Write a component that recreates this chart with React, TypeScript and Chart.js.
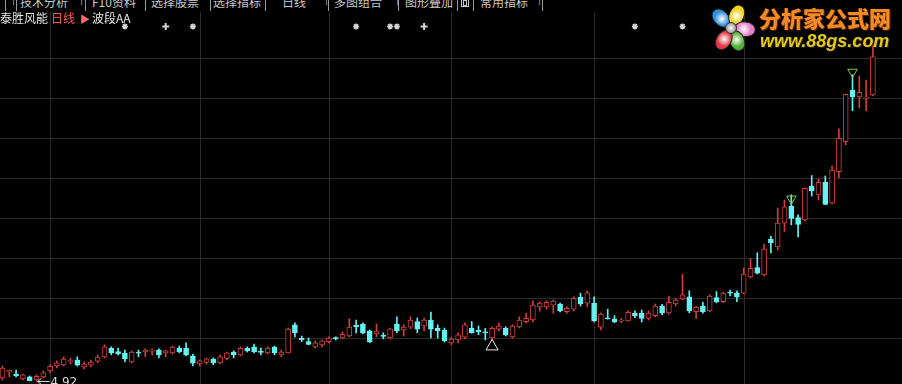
import React, { useEffect, useRef } from "react";
import { Chart, registerables } from "chart.js";

Chart.register(...registerables);

// ---------- text ----------
const stockName = "泰胜风能";
const periodLabel = "日线";
const indicatorLabel = "波段AA";
const toolbarLabels = ["技术分析", "F10资料", "选择股票", "选择指标", "日线", "多图组合", "图形叠加", "常用指标"];
const logoTitle = "分析家公式网";
const logoUrl = "www.88gs.com";

// ---------- daily candles (index 0 = oldest) ----------
const opens = [
  5.00, 5.15, 5.10, 4.98, 5.03, 4.95, 5.03, 5.18, 5.30, 5.33,
  5.41, 5.45, 5.28, 5.32, 5.42, 5.53, 5.74, 5.66, 5.62, 5.40,
  5.64, 5.65, 5.68, 5.70, 5.63, 5.63, 5.74, 5.74, 5.55, 5.35,
  5.39, 5.47, 5.38, 5.49, 5.65, 5.58, 5.74, 5.78, 5.66, 5.63,
  5.77, 5.58, 5.63, 6.33, 5.98, 5.91, 5.78, 5.83, 5.91, 6.00,
  6.00, 6.05, 6.31, 6.34, 6.18, 6.10, 6.06, 6.00, 6.35, 6.20,
  6.27, 6.41, 6.30, 6.45, 6.24, 6.20, 5.88, 5.95, 6.02, 6.24,
  6.18, 6.15, 6.00, 6.22, 6.24, 6.03, 6.28, 6.41, 6.45, 6.78,
  6.78, 6.82, 6.85, 6.66, 6.72, 7.02, 6.87, 6.87, 6.27, 6.50,
  6.47, 6.43, 6.43, 6.62, 6.62, 6.49, 6.56, 6.80, 6.63, 6.85,
  6.98, 7.03, 6.66, 6.80, 6.68, 7.01, 6.91, 7.14, 7.13, 7.12,
  7.53, 7.76, 7.58, 8.47, 8.28, 8.87, 9.30, 9.01, 8.95, 9.80,
  9.58, 9.89, 9.37, 10.16, 10.91, 12.20, 12.03, 12.00, 12.08,
];
const highs = [
  5.30, 5.20, 5.20, 5.10, 5.05, 5.08, 5.18, 5.33, 5.43, 5.53,
  5.50, 5.53, 5.40, 5.45, 5.58, 5.83, 5.78, 5.75, 5.70, 5.68,
  5.70, 5.73, 5.73, 5.73, 5.70, 5.80, 5.80, 5.88, 5.60, 5.45,
  5.50, 5.50, 5.58, 5.65, 5.68, 5.78, 5.78, 5.85, 5.75, 5.78,
  5.80, 5.70, 6.25, 6.38, 6.05, 6.00, 5.93, 5.95, 6.03, 6.03,
  6.15, 6.48, 6.45, 6.38, 6.20, 6.35, 6.13, 6.25, 6.53, 6.33,
  6.53, 6.50, 6.50, 6.65, 6.33, 6.25, 6.01, 6.13, 6.38, 6.41,
  6.30, 6.24, 6.28, 6.38, 6.28, 6.33, 6.53, 6.62, 6.93, 6.90,
  6.93, 6.95, 6.87, 6.78, 7.03, 7.12, 7.18, 7.03, 6.63, 6.72,
  6.56, 6.49, 6.68, 6.68, 6.70, 6.68, 6.85, 6.84, 7.04, 6.99,
  7.59, 7.18, 6.79, 6.89, 7.08, 7.16, 7.15, 7.20, 7.18, 7.75,
  7.98, 8.13, 8.35, 8.55, 9.25, 9.45, 9.58, 9.08, 9.75, 10.06,
  9.98, 10.05, 10.30, 11.23, 12.10, 12.58, 12.55, 12.45, 13.35,
];
const lows = [
  4.95, 5.03, 5.03, 4.95, 4.93, 4.92, 5.00, 5.13, 5.25, 5.30,
  5.35, 5.30, 5.23, 5.28, 5.38, 5.50, 5.58, 5.58, 5.40, 5.38,
  5.53, 5.53, 5.58, 5.50, 5.53, 5.60, 5.63, 5.55, 5.30, 5.30,
  5.35, 5.33, 5.35, 5.45, 5.50, 5.55, 5.65, 5.63, 5.58, 5.60,
  5.58, 5.53, 5.62, 6.03, 5.91, 5.83, 5.75, 5.78, 5.88, 5.95,
  5.98, 6.03, 6.13, 6.10, 5.88, 6.03, 5.98, 5.98, 6.13, 6.05,
  6.23, 6.13, 6.18, 6.00, 6.00, 5.90, 5.83, 5.88, 5.98, 6.12,
  6.08, 5.95, 5.95, 6.18, 6.05, 6.00, 6.25, 6.38, 6.40, 6.67,
  6.72, 6.62, 6.65, 6.62, 6.67, 6.80, 6.78, 6.40, 6.20, 6.47,
  6.38, 6.38, 6.42, 6.51, 6.40, 6.45, 6.53, 6.58, 6.60, 6.80,
  6.95, 6.63, 6.49, 6.62, 6.65, 6.88, 6.88, 7.05, 6.91, 7.10,
  7.50, 7.60, 7.55, 8.13, 8.20, 8.66, 8.83, 8.53, 8.93, 9.55,
  9.45, 9.33, 9.35, 10.01, 10.83, 11.68, 11.75, 11.68, 12.05,
];
const closes = [
  5.25, 5.19, 5.06, 5.08, 4.93, 5.04, 5.13, 5.30, 5.38, 5.47,
  5.43, 5.32, 5.35, 5.40, 5.52, 5.78, 5.63, 5.60, 5.48, 5.65,
  5.63, 5.70, 5.69, 5.58, 5.68, 5.77, 5.66, 5.58, 5.37, 5.43,
  5.48, 5.38, 5.53, 5.63, 5.58, 5.74, 5.68, 5.66, 5.65, 5.75,
  5.63, 5.65, 6.22, 6.13, 5.97, 5.84, 5.88, 5.93, 6.00, 5.99,
  6.09, 6.27, 6.29, 6.13, 5.91, 6.16, 6.05, 6.23, 6.18, 6.27,
  6.45, 6.22, 6.45, 6.22, 6.18, 5.93, 5.97, 6.08, 6.33, 6.13,
  6.17, 6.13, 6.24, 6.30, 6.08, 6.30, 6.45, 6.49, 6.82, 6.87,
  6.89, 6.92, 6.68, 6.74, 6.99, 6.85, 7.13, 6.43, 6.60, 6.48,
  6.40, 6.44, 6.64, 6.56, 6.49, 6.62, 6.80, 6.62, 6.89, 6.95,
  7.08, 6.68, 6.77, 6.66, 7.05, 6.91, 7.12, 7.13, 7.03, 7.60,
  7.74, 7.62, 8.22, 8.38, 8.87, 9.28, 8.99, 8.84, 9.74, 9.68,
  9.89, 9.34, 10.20, 10.99, 12.09, 12.03, 12.14, 12.02, 13.03,
];

// ---------- indicator signals ----------
const starIndices = [18, 28, 52, 57, 58, 93, 100];
const crossIndices = [24, 62];
const markerLevel = 13.79;
const topSignalIndices = [116, 125];
const topSignalValues = [9.48, 12.65];
const bottomSignalIndices = [72];
const bottomSignalValues = [5.79];
const lowPointIndex = 5;
const lowPointValue = 4.92;

// ---------- grid / axis ranges ----------
const priceGridValues = [6, 7, 8, 9, 10, 11, 12, 13];
const timeGridIndices = [7, 29, 48, 66, 87, 109];
const priceMin = 4.85;
const priceMax = 14.45;
const indexMin = -0.3676;
const indexMax = 132.279;

const UP = "#d23e3e";
const DOWN = "#66f2f2";

const isUp = (i: number) => closes[i] >= opens[i];
const bodyRange = (i: number) => {
  const lo = Math.min(opens[i], closes[i]);
  const hi = Math.max(opens[i], closes[i]);
  if (hi - lo < 0.03) {
    const m = (lo + hi) / 2;
    return [m - 0.015, m + 0.015];
  }
  return [lo, hi];
};

const gridPlugin = {
  id: "tdxGrid",
  beforeDatasetsDraw(chart: any) {
    const { ctx, chartArea, scales } = chart;
    ctx.save();
    ctx.lineWidth = 1;
    ctx.strokeStyle = "#2b2b2b";
    ctx.beginPath();
    for (const v of priceGridValues) {
      const y = Math.round(scales.y.getPixelForValue(v)) + 0.5;
      ctx.moveTo(chartArea.left, y);
      ctx.lineTo(chartArea.right, y);
    }
    for (const i of timeGridIndices) {
      const x = Math.round(scales.x.getPixelForValue(i)) + 0.5;
      ctx.moveTo(x, chartArea.top + 12);
      ctx.lineTo(x, chartArea.bottom);
    }
    ctx.stroke();
    ctx.restore();
  },
};

const lowLabelPlugin = {
  id: "lowLabel",
  afterDatasetsDraw(chart: any) {
    const { ctx, scales } = chart;
    const x = scales.x.getPixelForValue(lowPointIndex);
    const y = Math.round(scales.y.getPixelForValue(lowPointValue)) + 0.5;
    ctx.save();
    ctx.strokeStyle = "#d8d8d8";
    ctx.fillStyle = "#d8d8d8";
    ctx.lineWidth = 1;
    ctx.beginPath();
    ctx.moveTo(x + 1, y);
    ctx.lineTo(x + 13, y);
    ctx.moveTo(x + 1, y);
    ctx.lineTo(x + 5, y - 3);
    ctx.moveTo(x + 1, y);
    ctx.lineTo(x + 5, y + 3);
    ctx.stroke();
    ctx.font = '12px "DejaVu Sans", sans-serif';
    ctx.textBaseline = "middle";
    ctx.fillText(lowPointValue.toFixed(2), x + 14, y + 1);
    ctx.restore();
  },
};

function Logo() {
  const petals = [
    { a: -45, c: "#2f8fe0" },
    { a: 24, c: "#f2d21a" },
    { a: 95, c: "#e57ec8" },
    { a: 155, c: "#4fb034" },
    { a: 211, c: "#e23a48" },
  ];
  return (
    <div style={{ position: "absolute", left: 0, top: 0, width: 902, height: 60, pointerEvents: "none" }}>
      {petals.map((p, k) => (
        <div
          key={k}
          style={{
            position: "absolute",
            left: 730 - 7,
            top: 27 - 10,
            width: 14,
            height: 20,
            borderRadius: "50%",
            background: `radial-gradient(circle at 50% 55%, #ffffff 0%, ${p.c} 55%)`,
            border: "1px solid #222",
            transform: `rotate(${p.a}deg) translate(0px, -14px)`,
            transformOrigin: "50% 50%",
          }}
        />
      ))}
      <div
        style={{
          position: "absolute",
          left: 725,
          top: 22,
          width: 10,
          height: 10,
          borderRadius: "50%",
          background: "radial-gradient(circle, #ffffff 0%, #9a9a9a 70%)",
          border: "1px solid #333",
        }}
      />
      <div
        style={{
          position: "absolute",
          left: 759,
          top: 3,
          fontFamily: '"Noto Sans CJK SC", sans-serif',
          fontWeight: 900,
          fontSize: 22,
          lineHeight: "28px",
          color: "#f28a26",
          textShadow: "1px 1px 0 #5a2400, -1px 0 0 #3a1800",
          whiteSpace: "nowrap",
        }}
      >
        {logoTitle}
      </div>
      <div
        style={{
          position: "absolute",
          left: 760,
          top: 31,
          fontFamily: '"Liberation Sans", Arial, sans-serif',
          fontWeight: 700,
          fontStyle: "italic",
          fontSize: 18,
          lineHeight: "20px",
          color: "#e2c820",
          textShadow: "1px 1px 0 #2a2200",
          whiteSpace: "nowrap",
        }}
      >
        {logoUrl}
      </div>
    </div>
  );
}

function Toolbar() {
  const labelLefts = [20, 92, 151, 213, 282, 334, 405, 480];
  const separators = [5, 16, 85, 145, 210, 265, 328, 398, 457, 473, 542];
  const arrows = [9, 77, 322, 393, 535];
  const textStyle: React.CSSProperties = {
    position: "absolute",
    top: -4,
    fontSize: 12,
    lineHeight: "12px",
    color: "#c8c8c8",
    whiteSpace: "nowrap",
    fontFamily: '"Noto Sans CJK SC", sans-serif',
  };
  return (
    <div style={{ position: "absolute", left: 0, top: 0, width: 902, height: 11, background: "#000", overflow: "hidden" }}>
      {toolbarLabels.map((t, k) => (
        <div key={k} style={{ ...textStyle, left: labelLefts[k] }}>{t}</div>
      ))}
      {separators.map((x, k) => (
        <div key={"s" + k} style={{ position: "absolute", left: x, top: 0, width: 1, height: 11, background: "#9a9a9a" }} />
      ))}
      {arrows.map((x, k) => (
        <div key={"a" + k} style={{ ...textStyle, left: x, top: -3, fontSize: 9, lineHeight: "10px" }}>↑</div>
      ))}
      <div style={{ position: "absolute", left: 461, top: -3, width: 8, height: 10, border: "1px solid #c8c8c8", boxSizing: "border-box" }} />
      <div style={{ position: "absolute", left: 463, top: 0, width: 4, height: 6, border: "1px solid #c8c8c8", boxSizing: "border-box" }} />
      <div style={{ position: "absolute", left: 0, top: 11, width: 902, height: 1, background: "#8a8a8a" }} />
    </div>
  );
}

function Title() {
  const base: React.CSSProperties = {
    position: "absolute",
    top: 11,
    fontSize: 12,
    lineHeight: "14px",
    whiteSpace: "nowrap",
    fontFamily: '"Noto Sans CJK SC", sans-serif',
  };
  return (
    <>
      <div style={{ ...base, left: 0, color: "#e6e6e6" }}>{stockName}</div>
      <div style={{ ...base, left: 51, color: "#ff5a5a" }}>{periodLabel}</div>
      <div style={{ ...base, left: 80, top: 12, fontSize: 10, color: "#ff6e6e" }}>▶</div>
      <div style={{ ...base, left: 92, color: "#e6e6e6" }}>{indicatorLabel}</div>
    </>
  );
}

export default function App() {
  const ref = useRef<HTMLCanvasElement>(null);

  useEffect(() => {
    if (!ref.current) return;
    const idx = opens.map((_, i) => i);
    const chart = new Chart(ref.current, {
      type: "bar",
      data: {
        datasets: [
          {
            type: "scatter",
            label: "stars",
            data: starIndices.map((i) => ({ x: i, y: markerLevel })),
            pointStyle: "star",
            pointRadius: 3,
            pointBorderColor: "#d4d4d4",
            pointBackgroundColor: "#d4d4d4",
            pointBorderWidth: 1.5,
            clip: false,
            order: 0,
          } as any,
          {
            type: "scatter",
            label: "crosses",
            data: crossIndices.map((i) => ({ x: i, y: markerLevel })),
            pointStyle: "cross",
            pointRadius: 3.5,
            pointBorderColor: "#d4d4d4",
            pointBorderWidth: 2,
            clip: false,
            order: 0,
          } as any,
          {
            type: "scatter",
            label: "top",
            data: topSignalIndices.map((i, k) => ({ x: i, y: topSignalValues[k] })),
            pointStyle: "triangle",
            pointRotation: 180,
            pointRadius: 5.5,
            pointBorderColor: "#7ccc48",
            pointBackgroundColor: "rgba(0,0,0,0)",
            pointBorderWidth: 1,
            clip: false,
            order: 0,
          } as any,
          {
            type: "scatter",
            label: "bottom",
            data: bottomSignalIndices.map((i, k) => ({ x: i, y: bottomSignalValues[k] })),
            pointStyle: "triangle",
            pointRadius: 7,
            pointBorderColor: "#e8e8e8",
            pointBackgroundColor: "rgba(0,0,0,0)",
            pointBorderWidth: 1,
            clip: false,
            order: 0,
          } as any,
          {
            type: "bar",
            label: "body",
            data: idx.map((i) => ({ x: i, y: bodyRange(i) })),
            backgroundColor: idx.map((i) => (isUp(i) ? "#000000" : DOWN)),
            borderColor: idx.map((i) => (isUp(i) ? UP : DOWN)),
            borderWidth: 1,
            borderSkipped: false,
            barThickness: 5,
            grouped: false,
            order: 1,
          } as any,
          {
            type: "bar",
            label: "wick",
            data: idx.map((i) => ({ x: i, y: [lows[i], highs[i]] })),
            backgroundColor: idx.map((i) => (isUp(i) ? UP : DOWN)),
            borderWidth: 0,
            barThickness: 1,
            grouped: false,
            order: 2,
          } as any,
        ],
      },
      options: {
        responsive: false,
        maintainAspectRatio: false,
        animation: false,
        devicePixelRatio: 1,
        layout: { padding: 0, autoPadding: false },
        plugins: { legend: { display: false }, tooltip: { enabled: false } },
        scales: {
          x: { type: "linear", min: indexMin, max: indexMax, offset: false, display: false },
          y: { type: "linear", min: priceMin, max: priceMax, display: false },
        },
      } as any,
      plugins: [gridPlugin, lowLabelPlugin],
    });
    return () => chart.destroy();
  }, []);

  return (
    <div
      style={{
        position: "fixed",
        left: 0,
        top: 0,
        width: 902,
        height: 384,
        background: "#000",
        overflow: "hidden",
      }}
    >
      <canvas ref={ref} width={902} height={384} style={{ position: "absolute", left: 0, top: 0, width: 902, height: 384 }} />
      <Toolbar />
      <Title />
      <Logo />
    </div>
  );
}
